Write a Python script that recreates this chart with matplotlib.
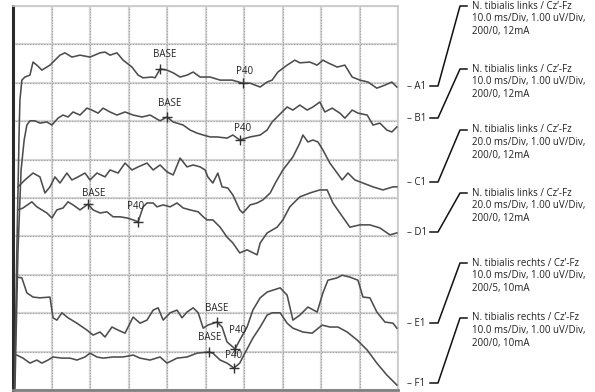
import numpy as np
import matplotlib.pyplot as plt

plt.rcParams['font.family'] = ['Open Sans', 'DejaVu Sans']

# time in ms (10 ms/Div, 10 Div), amplitude in display divisions (1 uV/Div)
a_t = [0.4, 1.0, 1.6, 1.8, 2.3, 3.1, 4.4, 5.2, 6.2, 7.5, 9.6, 12.2, 13.5, 15.3, 17.4,
       20.0, 22.6, 23.9, 25.2, 27.0, 28.6, 30.9, 32.5, 33.8, 36.1, 36.9, 38.2, 40.0, 41.6,
       43.4, 45.2, 46.8, 48.6, 51.2, 53.8, 56.9, 59.7, 61.6, 64.2, 66.0, 67.3, 68.8, 71.2,
       73.2, 74.5, 77.1, 79.0, 80.5, 81.8, 84.2, 86.2, 88.1, 90.1, 92.2, 94.5, 96.6, 98.4, 99.7]
a_v = [0.05, 3.65, 6.77, 7.55, 8.07, 8.15, 8.20, 8.54, 8.46, 8.33, 8.46, 8.72, 8.78, 8.67, 8.72,
       8.67, 8.78, 8.80, 8.72, 8.78, 8.59, 8.41, 8.20, 8.13, 8.15, 8.13, 8.36, 8.33, 8.26,
       8.15, 8.20, 8.28, 8.15, 8.15, 8.07, 8.07, 7.99, 7.99, 7.89, 8.02, 8.07, 8.28, 8.46,
       8.59, 8.52, 8.54, 8.46, 8.59, 8.52, 8.41, 8.46, 8.15, 8.07, 8.02, 7.86, 7.94, 8.02, 7.89]

b_t = [0.5, 1.3, 2.1, 2.9, 3.6, 4.4, 5.7, 7.0, 8.8, 10.1, 11.7, 13.0, 14.3, 15.6, 17.4,
       19.2, 20.5, 22.1, 23.4, 25.2, 27.0, 29.1, 31.2, 33.5, 35.6, 38.2, 40.0, 41.6, 44.2,
       46.0, 47.8, 49.4, 51.2, 53.0, 55.6, 57.1, 58.9, 61.6, 64.2, 66.0, 67.3, 68.6, 71.2,
       72.7, 74.5, 76.4, 77.9, 79.7, 81.0, 82.9, 84.9, 86.2, 88.1, 89.6, 92.0, 93.5, 95.3,
       97.1, 98.4, 99.7]
b_v = [0.05, 3.65, 5.73, 6.51, 6.90, 7.01, 7.01, 6.95, 6.98, 6.90, 7.08, 7.16, 7.11, 7.24, 7.16,
       7.34, 7.29, 7.21, 7.34, 7.24, 7.16, 7.24, 7.16, 7.11, 7.16, 7.01, 7.11, 6.98, 6.90,
       6.77, 6.69, 6.64, 6.59, 6.59, 6.56, 6.64, 6.51, 6.59, 6.64, 6.77, 6.98, 7.11, 7.37,
       7.29, 7.42, 7.29, 7.37, 7.50, 7.24, 7.34, 7.21, 7.08, 7.29, 7.21, 7.16, 6.90, 6.95,
       6.77, 6.72, 6.85]

c_t = [1.3, 3.1, 5.2, 7.0, 8.3, 9.6, 10.9, 12.2, 14.0, 15.3, 16.9, 18.7, 20.0, 21.8, 23.9,
       25.2, 27.3, 29.1, 30.9, 32.5, 34.8, 36.4, 38.2, 40.0, 41.6, 43.4, 45.2, 46.8, 48.6,
       49.9, 50.6, 51.9, 53.2, 54.3, 55.8, 57.1, 58.9, 59.7, 61.6, 63.4, 64.9, 66.8, 68.3,
       70.1, 72.7, 74.5, 75.3, 76.6, 77.9, 79.2, 80.5, 82.3, 84.2, 85.5, 87.0, 88.8, 90.9,
       93.5, 96.1, 98.7, 99.7]
c_v = [5.29, 5.47, 5.65, 5.55, 5.13, 5.29, 5.55, 5.39, 5.65, 5.47, 5.55, 5.65, 5.47, 5.65, 5.55,
       5.73, 5.65, 5.91, 5.73, 5.81, 5.91, 5.73, 5.86, 5.68, 5.60, 6.04, 5.81, 5.86, 5.81,
       5.73, 5.55, 5.39, 5.65, 5.29, 5.26, 5.08, 4.69, 4.61, 4.82, 4.87, 4.95, 5.13, 5.42,
       5.73, 6.07, 6.43, 6.64, 6.46, 6.51, 6.46, 6.25, 5.91, 5.65, 5.47, 5.65, 5.47, 5.39,
       5.29, 5.21, 5.29, 5.29]

d_t = [1.3, 2.6, 4.9, 6.2, 7.5, 8.8, 10.1, 11.4, 13.0, 14.3, 15.6, 17.4, 19.5, 20.8, 22.6,
       24.4, 26.0, 27.8, 29.6, 31.2, 32.5, 33.8, 34.8, 36.4, 37.4, 39.0, 40.8, 42.6, 44.2,
       46.0, 48.1, 49.4, 50.4, 51.9, 53.8, 55.6, 57.1, 58.9, 60.8, 63.4, 64.2, 66.0, 68.6,
       70.1, 71.9, 74.5, 77.1, 79.7, 81.6, 83.1, 84.9, 87.5, 90.1, 92.7, 95.3, 97.9, 99.7]
d_v = [4.69, 4.74, 4.90, 4.77, 4.69, 4.61, 4.48, 4.69, 4.74, 4.90, 4.82, 4.69, 4.84, 4.69, 4.61,
       4.64, 4.51, 4.51, 4.48, 4.43, 4.38, 4.77, 4.87, 4.87, 4.77, 4.82, 4.77, 4.87, 4.74,
       4.69, 4.64, 4.51, 4.43, 4.43, 4.24, 3.98, 3.83, 3.57, 3.65, 3.52, 3.83, 4.09, 4.24,
       4.43, 4.77, 5.03, 5.13, 5.21, 5.21, 4.87, 4.61, 4.24, 4.30, 4.30, 4.22, 4.04, 4.09]

e_t = [1.0, 2.3, 3.6, 5.2, 7.0, 9.6, 10.4, 11.4, 12.7, 14.3, 16.6, 19.2, 20.8, 22.6, 23.9,
       25.7, 27.3, 29.1, 31.2, 33.0, 34.8, 36.4, 37.7, 39.0, 40.8, 42.6, 43.9, 45.2, 46.8,
       48.1, 49.4, 50.6, 53.0, 54.3, 55.6, 57.7, 58.9, 60.8, 62.3, 64.2, 66.0, 67.5, 69.4,
       71.2, 72.7, 74.5, 76.6, 79.0, 80.5, 81.8, 84.2, 85.5, 87.5, 89.6, 90.9, 92.7, 94.5,
       96.6, 98.7, 99.7]
e_v = [2.94, 2.92, 2.53, 2.42, 2.40, 2.42, 1.88, 1.82, 2.01, 1.88, 1.74, 1.56, 1.43, 1.51, 1.38,
       1.64, 1.56, 1.48, 1.90, 1.74, 1.82, 2.08, 2.14, 1.82, 2.01, 2.08, 1.88, 2.03, 2.14,
       2.01, 1.61, 1.69, 1.77, 1.64, 1.25, 1.07, 1.30, 1.64, 2.08, 2.40, 2.55, 2.60, 2.66,
       2.47, 1.82, 1.95, 2.16, 2.03, 2.53, 2.86, 2.92, 2.99, 2.94, 2.86, 2.42, 2.40, 2.03,
       1.77, 1.74, 1.61]

f_t = [1.0, 2.6, 4.4, 6.2, 7.5, 9.1, 10.4, 12.7, 14.8, 16.6, 18.7, 20.0, 21.8, 23.4, 26.0,
       28.6, 31.2, 33.0, 35.6, 38.2, 40.0, 42.6, 45.2, 47.8, 50.9, 51.9, 53.8, 55.6, 57.4,
       58.9, 59.7, 62.3, 64.2, 66.0, 67.3, 69.4, 71.2, 72.7, 75.3, 77.7, 80.3, 82.3, 84.4,
       86.8, 89.4, 92.0, 94.5, 97.1, 99.7]
f_v = [0.91, 0.83, 0.70, 0.78, 0.70, 0.78, 0.86, 0.83, 0.83, 0.78, 0.86, 0.96, 0.86, 0.83, 0.86,
       0.86, 0.91, 0.83, 0.78, 0.86, 0.70, 0.83, 0.86, 0.96, 0.99, 0.96, 0.78, 0.70, 0.57,
       0.70, 0.86, 1.35, 1.64, 1.95, 2.01, 2.01, 1.74, 1.61, 1.51, 1.48, 1.69, 1.64, 1.64,
       1.51, 1.30, 1.04, 0.70, 0.39, 0.13]

# latency markers: (trace, name, t, v)
mark_trace = ['A', 'A', 'B', 'B', 'D', 'D', 'E', 'E', 'F', 'F']
mark_name = ['BASE', 'P40', 'BASE', 'P40', 'BASE', 'P40', 'BASE', 'P40', 'BASE', 'P40']
mark_t = [38.2, 59.7, 40.0, 58.9, 19.5, 32.5, 53.0, 57.7, 50.9, 57.4]
mark_v = [8.36, 7.99, 7.11, 6.51, 4.84, 4.38, 1.77, 1.07, 0.99, 0.57]
mark_off = [(5, 14), (2, 12), (3, 13), (3, 12), (6, 11), (-3, 15), (0, 14), (2, 18), (1, 14), (0, 13)]

channels = ['A1', 'B1', 'C1', 'D1', 'E1', 'F1']
infos = [
    ['N. tibialis links / Cz\u2019-Fz', '10.0 ms/Div, 1.00 uV/Div,', '200/0, 12mA'],
    ['N. tibialis links / Cz\u2019-Fz', '10.0 ms/Div, 1.00 uV/Div,', '200/0, 12mA'],
    ['N. tibialis links / Cz\u2019-Fz', '20.0 ms/Div, 1.00 uV/Div,', '200/0, 12mA'],
    ['N. tibialis links / Cz\u2019-Fz', '20.0 ms/Div, 1.00 uV/Div,', '200/0, 12mA'],
    ['N. tibialis rechts / Cz\u2019-Fz', '10.0 ms/Div, 1.00 uV/Div,', '200/5, 10mA'],
    ['N. tibialis rechts / Cz\u2019-Fz', '10.0 ms/Div, 1.00 uV/Div,', '200/0, 10mA'],
]

traces = [(a_t, a_v), (b_t, b_v), (c_t, c_v), (d_t, d_v), (e_t, e_v), (f_t, f_v)]

W, H = 595, 392
fig = plt.figure(figsize=(W / 100, H / 100), dpi=100)
ax = fig.add_axes([13 / W, 2 / H, 385 / W, 384 / H])
ax.set_xlim(0, 100)
ax.set_ylim(0, 10)
ax.set_xticks(np.arange(0, 101, 10))
ax.set_yticks(np.arange(0, 11, 1))
ax.tick_params(length=0, labelbottom=False, labelleft=False)
ax.grid(True, color='#d6d6d6', lw=1.6, zorder=0)
for x in np.arange(10, 100, 10):
    ax.axvline(x, color='#a0a0a0', lw=0.8, ls=(0, (1, 1.5)), zorder=1)
for y in np.arange(1, 10, 1):
    ax.axhline(y, color='#a0a0a0', lw=0.8, ls=(0, (1, 1.5)), zorder=1)
ax.set_axisbelow(True)

ax.spines['left'].set_color('#2a2a2a')
ax.spines['left'].set_linewidth(2.2)
ax.spines['bottom'].set_color('#808080')
ax.spines['bottom'].set_linewidth(2.0)
for s in ['top', 'right']:
    ax.spines[s].set_color('#c8c8c8')
    ax.spines[s].set_linewidth(1.2)

for t, v in traces:
    ax.plot(t, v, color='#4d4d4d', lw=1.15, zorder=3)

for i in range(len(mark_t)):
    ax.plot(mark_t[i], mark_v[i], marker='+', ms=7, mew=1.0, color='#333333', zorder=4)
    ax.annotate(mark_name[i], (mark_t[i], mark_v[i]), xytext=mark_off[i],
                textcoords='offset pixels', ha='center', va='center',
                fontsize=7, color='#222222', zorder=5)

# right-hand channel labels with bracket connectors (pixel layout)
ov = fig.add_axes([0, 0, 1, 1])
ov.set_xlim(0, W)
ov.set_ylim(H, 0)
ov.axis('off')
chan_y = [86, 118, 182, 232, 323, 383]
block_y = [6, 69, 130, 193, 263, 318]
for name, cy, by, info in zip(channels, chan_y, block_y, infos):
    ov.text(407, cy, '\u2013 ' + name, ha='left', va='center', fontsize=7, color='#222222')
    ov.plot([430, 438, 460, 467], [cy, cy, by, by], color='#111111', lw=1.1)
    for k, line in enumerate(info):
        ov.text(472, by + k * 12.6, line, ha='left', va='center', fontsize=7, color='#222222')

fig.savefig('out.png', dpi=100)
